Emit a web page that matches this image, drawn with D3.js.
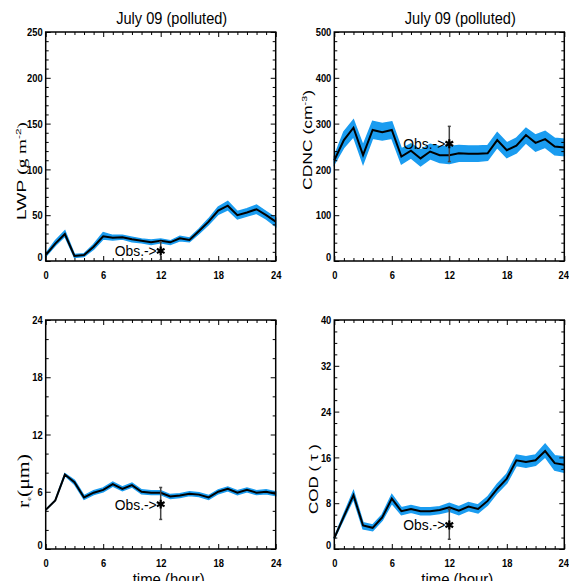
<!DOCTYPE html>
<html>
<head>
<meta charset="utf-8">
<script src="https://d3js.org/d3.v7.min.js"></script>
<style>
  body { margin: 0; background: #fff; }
  svg { display: block; }
  .tick text { font-family: "Liberation Sans", Arial, sans-serif; font-weight: bold; font-size: 11.5px; fill: #000; }
  .tick line { stroke: #000; stroke-width: 1; }
</style>
</head>
<body>
<div id="chart"></div>
<script>
// hours of the day (x categories)
const hours = [0,1,2,3,4,5,6,7,8,9,10,11,12,13,14,15,16,17,18,19,20,21,22,23,24];

// liquid water path (g m-2)
const lwpMean  = [6.5,19,29.5,5.5,6.5,15.6,27,25.5,26,23.7,22,20.4,22,20.4,24.7,23,32.8,43,55,60.4,50,53,56.5,50,43];
const lwpUpper = [8,22,33,7,8,18,31,28,28,26,24,23,24,22,27,25,35,46,59,65,54,57,61,54,47];
const lwpLower = [5,17,27,4,5,13,24,23,24,21,20,18,20,18,22,21,30,40,51,56,46,49,52,46,38];

// cloud droplet number concentration (cm-3)
const cdncMean  = [220,264,291,231,286,281,286,228,241,224,239,231,231,235,234,234,235,264,242,252,275,258,266,250,248];
const cdncUpper = [228,282,308,252,305,300,304,245,256,242,255,250,250,252,251,251,252,280,258,268,290,275,283,268,266];
const cdncLower = [212,248,272,212,268,264,268,212,225,208,223,215,213,218,218,218,220,248,226,236,258,240,248,232,230];

// effective radius (um)
const reMean  = [4.1,5.1,7.8,7.0,5.4,5.9,6.2,6.8,6.3,6.7,6.0,5.9,5.9,5.5,5.6,5.8,5.7,5.4,6.0,6.3,5.9,6.2,5.9,6.0,5.8];
const reUpper = [4.1,5.1,7.9,7.2,5.6,6.1,6.4,7.0,6.5,6.9,6.2,6.1,6.1,5.7,5.8,6.0,5.9,5.6,6.2,6.5,6.1,6.4,6.1,6.2,6.0];
const reLower = [4.1,5.1,7.7,6.8,5.2,5.7,6.0,6.6,6.1,6.5,5.8,5.7,5.7,5.3,5.4,5.6,5.5,5.2,5.8,6.1,5.7,6.0,5.7,5.8,5.6];

// cloud optical depth
const codMean  = [1.9,5.7,9.4,4.1,3.7,5.5,8.8,6.6,7.0,6.6,6.6,6.8,7.3,6.7,7.4,7.0,8.4,10.5,12.3,15.5,15.2,15.5,17.1,15.0,14.7];
const codUpper = [2.0,6.1,10.1,4.6,4.2,6.0,9.5,7.2,7.6,7.2,7.2,7.4,8.0,7.4,8.1,7.7,9.1,11.3,13.1,16.4,16.1,16.4,18.3,16.3,16.1];
const codLower = [1.8,5.3,8.8,3.5,3.2,5.0,8.0,6.0,6.4,6.0,6.0,6.2,6.6,6.0,6.7,6.3,7.7,9.8,11.5,14.6,14.3,14.6,16.1,13.8,13.4];

// observations at noon: [hour, value, low, high]
const lwpObs  = [12, 11, 1, 21];
const cdncObs = [12, 256, 217, 294];
const reObs   = [12, 4.7, 3.1, 6.45];
const codObs  = [12, 4.2, 1.7, 6.9];

// axis ticks
const xTicks = [0, 6, 12, 18, 24];
const lwpTicks  = [0, 50, 100, 150, 200, 250];
const cdncTicks = [0, 100, 200, 300, 400, 500];
const reTicks   = [0, 6, 12, 18, 24];
const codTicks  = [0, 8, 16, 24, 32, 40];

const titleText = "July 09 (polluted)";

const W = 569, H = 581;
const PW = 230, PH = 229;
const BAND = "#1a9cf0";

const svg = d3.select("#chart").append("svg")
    .attr("width", W).attr("height", H);

const panels = [
    { x0: 45.7, y0: 32, mean: lwpMean, up: lwpUpper, lo: lwpLower, obs: lwpObs, ticks: lwpTicks, minor: 5,
      title: true, xlabel: false, lab: { dx: -20, dy: 24.5, len: 98 } , key: "lwp" },
    { x0: 334.3, y0: 32, mean: cdncMean, up: cdncUpper, lo: cdncLower, obs: cdncObs, ticks: cdncTicks, minor: 5,
      title: true, xlabel: false, lab: { dx: -22, dy: -6.5, len: 100 }, key: "cdnc" },
    { x0: 45.7, y0: 320, mean: reMean, up: reUpper, lo: reLower, obs: reObs, ticks: reTicks, minor: 3,
      title: false, xlabel: true, lab: { dx: -17, dy: 46.5, len: 54 }, key: "re" },
    { x0: 334.3, y0: 320, mean: codMean, up: codUpper, lo: codLower, obs: codObs, ticks: codTicks, minor: 4,
      title: false, xlabel: true, lab: { dx: -16, dy: 44.5, len: 70 }, key: "cod" }
];

panels.forEach(p => drawPanel(p));

function minorValues(ticks, n) {
    const out = [];
    for (let i = 0; i < ticks.length - 1; i++) {
        const step = (ticks[i + 1] - ticks[i]) / n;
        for (let k = 1; k < n; k++) out.push(ticks[i] + k * step);
    }
    return out;
}

function drawPanel(p) {
    const g = svg.append("g").attr("transform", `translate(${p.x0},${p.y0})`);

    const x = d3.scaleLinear().domain([0, 24]).range([0, PW]);
    const y = d3.scaleLinear().domain([p.ticks[0], p.ticks[p.ticks.length - 1]]).range([PH, 0]);

    const rows = hours.map((h, i) => ({ h: h, m: p.mean[i], u: p.up[i], l: p.lo[i] }));

    // spread band
    g.append("path")
        .datum(rows)
        .attr("fill", BAND)
        .attr("stroke", BAND)
        .attr("stroke-width", 1.5)
        .attr("d", d3.area().x(d => x(d.h)).y0(d => y(d.l)).y1(d => y(d.u)));

    // mean line
    g.append("path")
        .datum(rows)
        .attr("fill", "none")
        .attr("stroke", "#000")
        .attr("stroke-width", 2)
        .attr("stroke-linejoin", "miter")
        .attr("d", d3.line().x(d => x(d.h)).y(d => y(d.m)));

    // axes: major + minor ticks, all pointing inward
    const xMinor = minorValues(xTicks, 6);
    const yMinor = minorValues(p.ticks, p.minor);

    const bottom = g.append("g").attr("transform", `translate(0,${PH})`)
        .call(d3.axisBottom(x).tickValues(xTicks).tickSize(-5).tickSizeOuter(0).tickPadding(10).tickFormat(d3.format("d")));
    g.append("g").attr("transform", `translate(0,${PH})`)
        .call(d3.axisBottom(x).tickValues(xMinor).tickSize(-3).tickSizeOuter(0).tickFormat(""));
    g.append("g")
        .call(d3.axisTop(x).tickValues(xTicks).tickSize(-5).tickSizeOuter(0).tickFormat(""));
    g.append("g")
        .call(d3.axisTop(x).tickValues(xMinor).tickSize(-3).tickSizeOuter(0).tickFormat(""));

    const left = g.append("g")
        .call(d3.axisLeft(y).tickValues(p.ticks).tickSize(-5).tickSizeOuter(0).tickPadding(3).tickFormat(d3.format("d")));
    g.append("g")
        .call(d3.axisLeft(y).tickValues(yMinor).tickSize(-3).tickSizeOuter(0).tickFormat(""));
    g.append("g").attr("transform", `translate(${PW},0)`)
        .call(d3.axisRight(y).tickValues(p.ticks).tickSize(-5).tickSizeOuter(0).tickFormat(""));
    g.append("g").attr("transform", `translate(${PW},0)`)
        .call(d3.axisRight(y).tickValues(yMinor).tickSize(-3).tickSizeOuter(0).tickFormat(""));

    g.selectAll(".domain").remove();

    // narrow the tick labels like the original plotting font
    [bottom, left].forEach(ax => ax.selectAll(".tick text")
        .attr("textLength", function () { return this.textContent.length * 5.2; })
        .attr("lengthAdjust", "spacingAndGlyphs"));
    left.selectAll(".tick text").filter(d => d === p.ticks[0]).attr("dy", "-0.05em");
    if (p.x0 > 300) {
        bottom.selectAll(".tick text").filter(d => d === 24).attr("dx", "-1");
    }

    // frame
    g.append("rect")
        .attr("width", PW).attr("height", PH)
        .attr("fill", "none").attr("stroke", "#000").attr("stroke-width", 1.5);

    // observation with error bar
    const ox = x(p.obs[0]), oy = y(p.obs[1]);
    const eb = g.append("g").attr("stroke", "#444").attr("stroke-width", 1.5);
    eb.append("line").attr("x1", ox).attr("x2", ox).attr("y1", y(p.obs[2])).attr("y2", y(p.obs[3]));
    eb.append("line").attr("x1", ox - 1.5).attr("x2", ox + 1.5).attr("y1", y(p.obs[2])).attr("y2", y(p.obs[2]));
    eb.append("line").attr("x1", ox - 1.5).attr("x2", ox + 1.5).attr("y1", y(p.obs[3])).attr("y2", y(p.obs[3]));

    const star = d3.symbolAsterisk || d3.symbolCross;
    g.append("path")
        .attr("transform", `translate(${ox},${oy})`)
        .attr("d", d3.symbol().type(star).size(55))
        .attr("fill", "none")
        .attr("stroke", "#000")
        .attr("stroke-width", 2.2);

    g.append("text")
        .attr("x", ox - 4).attr("y", oy + 5.5)
        .attr("text-anchor", "end")
        .attr("font-family", "Liberation Sans, Arial, sans-serif")
        .attr("font-size", 14.5)
        .attr("textLength", 42)
        .attr("lengthAdjust", "spacingAndGlyphs")
        .text("Obs.->");

    // title
    if (p.title) {
        g.append("text")
            .attr("x", PW / 2 + 11).attr("y", -8)
            .attr("text-anchor", "middle")
            .attr("font-family", "Liberation Sans, Arial, sans-serif")
            .attr("font-size", 17)
            .attr("textLength", 111)
            .attr("lengthAdjust", "spacingAndGlyphs")
            .text(titleText);
    }

    if (p.xlabel) {
        g.append("text")
            .attr("x", PW / 2 + 8).attr("y", PH + 36)
            .attr("text-anchor", "middle")
            .attr("font-family", "Liberation Sans, Arial, sans-serif")
            .attr("font-size", 16)
            .attr("textLength", 72)
            .attr("lengthAdjust", "spacingAndGlyphs")
            .text("time (hour)");
    }

    // y axis label
    const ly = PH / 2 + p.lab.dy;
    const t = g.append("text")
        .attr("transform", `translate(${p.lab.dx},${ly}) rotate(-90)`)
        .attr("text-anchor", "middle")
        .attr("font-family", "Liberation Sans, Arial, sans-serif")
        .attr("font-size", 13)
        .attr("textLength", p.lab.len)
        .attr("lengthAdjust", "spacingAndGlyphs");

    if (p.key === "lwp") {
        t.append("tspan").text("LWP  ");
        t.append("tspan").attr("font-family", "Liberation Serif, serif").text("(g m");
        t.append("tspan").attr("font-size", 8).attr("dy", -5).text("-2");
        t.append("tspan").attr("font-family", "Liberation Serif, serif").attr("dy", 5).text(")");
    } else if (p.key === "cdnc") {
        t.append("tspan").text("CDNC  (cm");
        t.append("tspan").attr("font-size", 8).attr("dy", -5).text("-3");
        t.append("tspan").attr("dy", 5).text(")");
    } else if (p.key === "re") {
        t.attr("font-family", "Liberation Serif, serif").attr("font-size", 16);
        t.append("tspan").text("r");
        t.append("tspan").attr("font-size", 6).attr("dy", 2).text("e");
        t.append("tspan").attr("dy", -2).text("(\u03bcm)");
    } else {
        t.text("COD  ( \u03c4 )");
    }
}
</script>
</body>
</html>
